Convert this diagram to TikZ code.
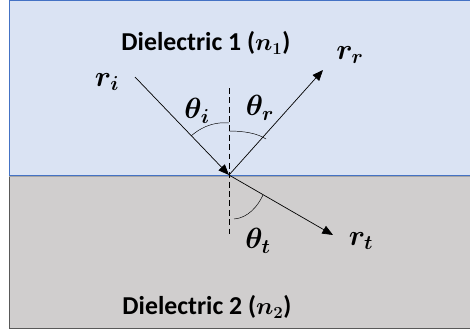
\documentclass[tikz,border=0pt]{standalone}
\usepackage{fontspec}
\usepackage{amsmath,bm}
\setmainfont{Carlito}
\usetikzlibrary{arrows.meta}
\definecolor{diefill}{RGB}{218,227,243}
\definecolor{dieedge}{RGB}{68,114,196}
\definecolor{subfill}{RGB}{208,206,206}
\definecolor{subedge}{RGB}{89,89,89}

\begin{document}
\begin{tikzpicture}[
    x=0.03cm,y=-0.03cm,
    medium/.style={font=\fontsize{22}{24}\selectfont\bfseries\boldmath},
    sym/.style={font=\fontsize{25}{27}\selectfont\boldmath},
    ray/.style={-{Triangle[length=3.2mm,width=2.6mm]},semithick},
    normal/.style={dashed,thick,dash pattern=on 5pt off 3pt},
    anglearc/.style={thin}
  ]
    \useasboundingbox (0,0) rectangle (470,331);
    % media
    \fill[subfill] (9,175.5) rectangle (472,328);
    \draw[subedge,thick] (472,328) -- (9,328) -- (9,175.5);
    \fill[diefill] (9,0.5) rectangle (472,175.5);
    \draw[dieedge,thick] (472,0.5) -- (9,0.5) -- (9,175.5) -- (472,175.5);
    \draw[gray!70,thick] (9,176.6) -- (472,176.6);

    \coordinate (hit) at (229,175);
    \coordinate (nTop) at (229,88);
    \coordinate (nBot) at (229,234);
    \coordinate (src) at (135,77);
    \coordinate (refl) at (323,70);
    \coordinate (trans) at (333,235);

    % normal and rays
    \draw[normal] (nTop) -- (nBot);
    \draw[ray] (src) -- (hit);
    \draw[ray] (hit) -- (refl);
    \draw[ray] (hit) -- (trans);

    % angles
    \draw[anglearc] (191,136) .. controls (205,124) and (218,122) .. (229,123);
    \draw[anglearc] (229,131) .. controls (243,131) and (257,133) .. (266,139);
    \draw[anglearc] (234,219) .. controls (248,218) and (258,206) .. (263,195);

    % labels
    \node[medium] (d1) at (206,43) {Dielectric 1 ($n_1$)};
    \node[medium] (d2) at (207,307) {Dielectric 2 ($n_2$)};
    \node[sym] (ri) at (107,82) {$r_i$};
    \node[sym] (rr) at (350,55) {$r_r$};
    \node[sym] (rt) at (361,241) {$r_t$};
    \node[sym] (ti) at (197,111) {$\theta_i$};
    \node[sym] (tr) at (260,108) {$\theta_r$};
    \node[sym] (tt) at (258,241) {$\theta_t$};
  \end{tikzpicture}
\end{document}
